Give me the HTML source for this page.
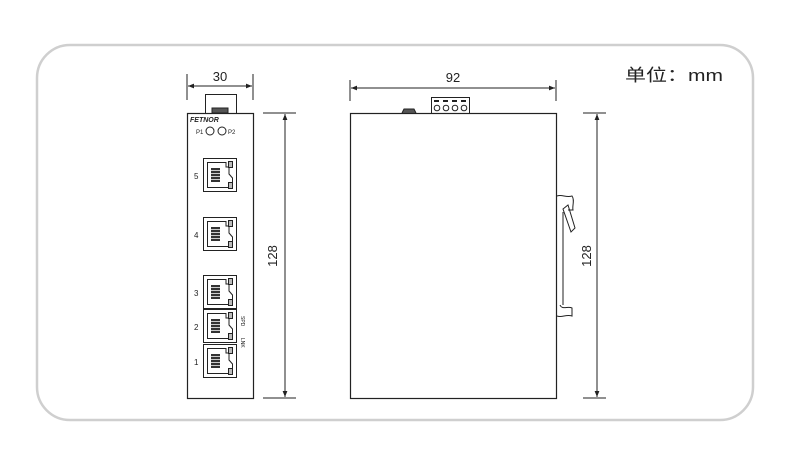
<!DOCTYPE html>
<html><head><meta charset="utf-8"><style>
html,body{margin:0;padding:0;background:#fff;width:790px;height:467px;overflow:hidden}
svg{display:block}
text{font-family:"Liberation Sans","Noto Sans CJK SC",sans-serif;fill:#222}
</style></head><body>
<svg width="790" height="467" viewBox="0 0 790 467" xmlns="http://www.w3.org/2000/svg">
<defs>
<g id="port" fill="none" stroke="#222" stroke-width="1">
<rect x="0.5" y="0.5" width="33" height="33"/>
<path d="M4.5,4.5 H23 V9 H26 V16 L29.5,20 V29.5 H4.5 Z"/>
<rect x="8" y="10" width="9" height="14" fill="#333" stroke="none"/>
<path d="M8,12.5H17M8,15.5H17M8,18.5H17M8,21.5H17" stroke="#fff" stroke-width="0.8"/>
<rect x="25.5" y="3.5" width="4" height="6" fill="#bbb"/>
<rect x="25.5" y="24.5" width="4" height="6" fill="#bbb"/>
</g>
<marker id="a" viewBox="0 0 10 10" refX="10" refY="5" markerWidth="8" markerHeight="6" orient="auto-start-reverse"><path d="M0,1 L10,5 L0,9 Z" fill="#222"/></marker>
</defs>
<rect x="37" y="45" width="716" height="375" rx="33" fill="none" stroke="#cfcfcf" stroke-width="2.5"/>
<text x="625" y="81" font-size="17" textLength="98" lengthAdjust="spacingAndGlyphs">单位：mm</text>

<g stroke="#222" stroke-width="1" fill="none">
<line x1="187" y1="74" x2="187" y2="100"/><line x1="253" y1="74" x2="253" y2="100"/>
<line x1="188" y1="86" x2="252" y2="86" marker-start="url(#a)" marker-end="url(#a)"/>
<rect x="205.5" y="94.5" width="31" height="19" fill="#fff"/>
<rect x="212" y="108" width="16" height="5" fill="#555"/>
<rect x="187.5" y="113.5" width="66" height="285" fill="#fff" stroke-width="1.2"/>
<line x1="263" y1="113" x2="296" y2="113"/><line x1="263" y1="398" x2="296" y2="398"/>
<line x1="285" y1="114" x2="285" y2="397" marker-start="url(#a)" marker-end="url(#a)"/>
<circle cx="210" cy="131" r="4"/><circle cx="222" cy="131" r="4"/>
</g>
<text x="190" y="122" font-size="7" font-weight="bold" font-style="italic">FETNOR</text>
<text x="196" y="134" font-size="6">P1</text>
<text x="228" y="134" font-size="6">P2</text>
<text x="277" y="256" font-size="13" transform="rotate(-90 277 256)" text-anchor="middle">128</text>
<text x="220" y="81" font-size="13" text-anchor="middle">30</text>
<use href="#port" x="203" y="158"/>
<use href="#port" x="203" y="217"/>
<use href="#port" x="203" y="275"/>
<use href="#port" x="203" y="309"/>
<use href="#port" x="203" y="344"/>
<text x="194" y="179" font-size="8">5</text>
<text x="194" y="238" font-size="8">4</text>
<text x="194" y="296" font-size="8">3</text>
<text x="194" y="330" font-size="8">2</text>
<text x="194" y="365" font-size="8">1</text>
<text x="241" y="316" font-size="5" transform="rotate(90 241 316)">SPD</text>
<text x="241" y="338" font-size="5" transform="rotate(90 241 338)">LNK</text>

<g stroke="#222" stroke-width="1" fill="none">
<line x1="350" y1="80" x2="350" y2="101"/><line x1="556" y1="80" x2="556" y2="101"/>
<line x1="351" y1="88" x2="555" y2="88" marker-start="url(#a)" marker-end="url(#a)"/>
<rect x="431.5" y="97.5" width="38" height="16" fill="#fff"/>
<g fill="#fff"><circle cx="437" cy="108" r="2.8"/><circle cx="446" cy="108" r="2.8"/><circle cx="455" cy="108" r="2.8"/><circle cx="464" cy="108" r="2.8"/></g>
<path d="M434,101h5M443,101h5M452,101h5M461,101h5" stroke-width="2"/>
<path d="M402,113 L404,109 H414 L416,113" fill="#555"/>
<rect x="350.5" y="113.5" width="206" height="285" fill="#fff" stroke-width="1.2"/>
<path d="M557,196 C562,194 566,198 572,196 C575,200 572,206 573,210 L568,210 M557,316 C562,318 566,314 572,316 L572,308 C568,306 562,310 560,305"/>
<path d="M563,209 L568,205 L575,228 L571,232 Z"/>
<line x1="563" y1="212" x2="563" y2="305"/>
<line x1="583" y1="113" x2="606" y2="113"/><line x1="583" y1="398" x2="606" y2="398"/>
<line x1="597" y1="114" x2="597" y2="397" marker-start="url(#a)" marker-end="url(#a)"/>
</g>
<text x="453" y="82" font-size="13" text-anchor="middle">92</text>
<text x="591" y="256" font-size="13" transform="rotate(-90 591 256)" text-anchor="middle">128</text>
</svg>
</body></html>
